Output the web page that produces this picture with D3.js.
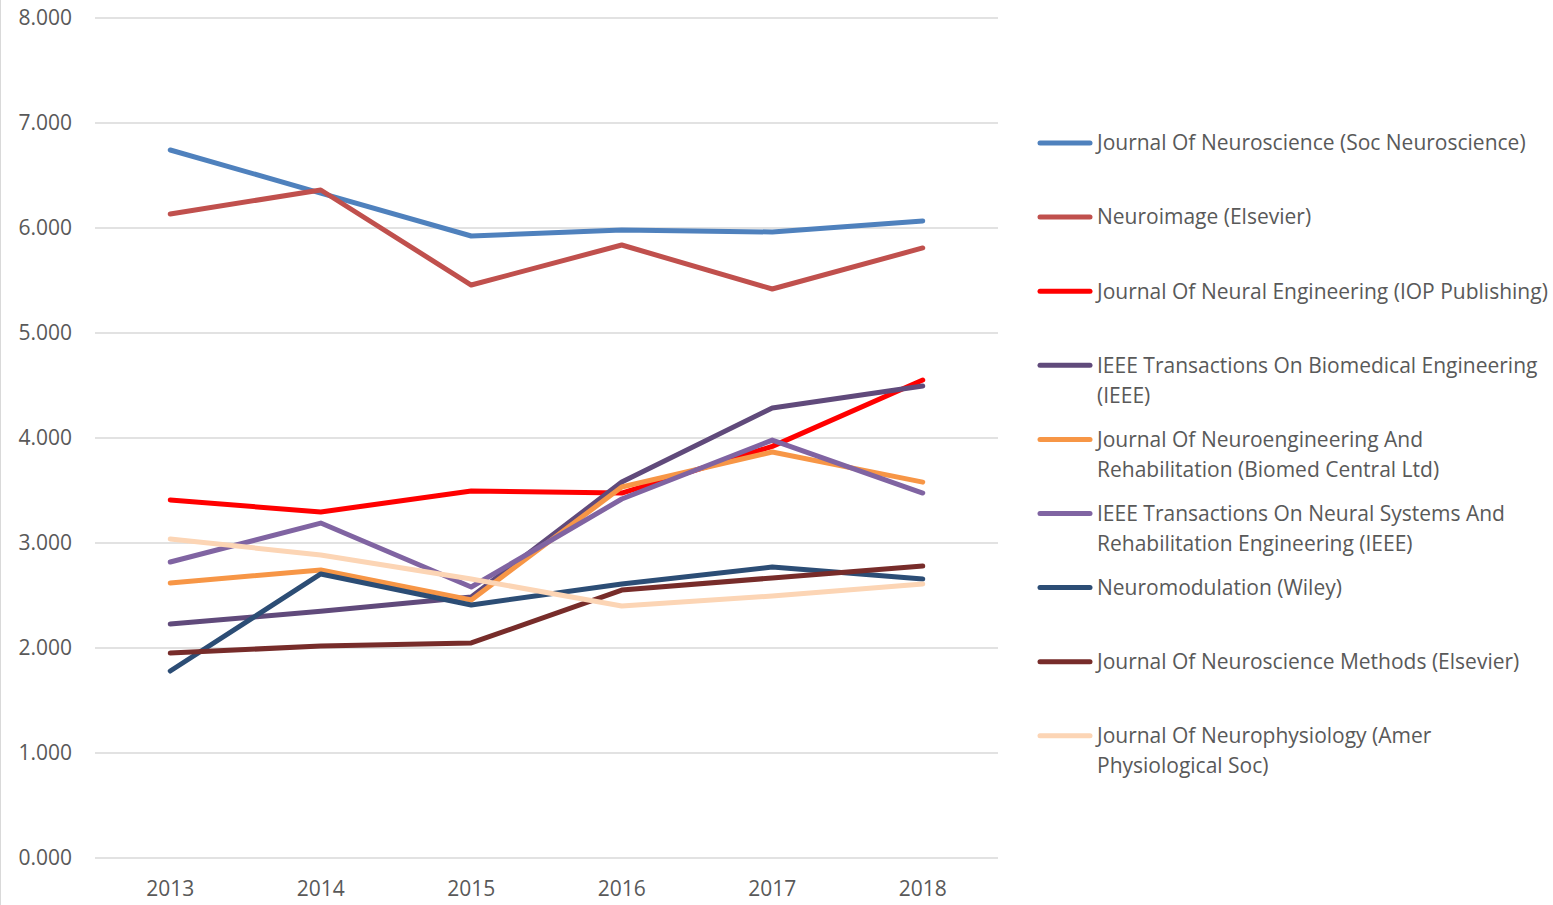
<!DOCTYPE html>
<html>
<head>
<meta charset="utf-8">
<script src="https://cdn.jsdelivr.net/npm/d3@7"></script>
<style>
  body { margin: 0; background: #fff; }
  svg text { font-family: "Open Sans", sans-serif; fill: #595959; }
</style>
</head>
<body>
<svg id="chart" width="1553" height="905"></svg>
<script>
// years on the x axis
const years = ["2013", "2014", "2015", "2016", "2017", "2018"];

// journal names, in legend order
const journals = [
  "Journal Of Neuroscience (Soc Neuroscience)",
  "Neuroimage (Elsevier)",
  "Journal Of Neural Engineering (IOP Publishing)",
  "IEEE Transactions On Biomedical Engineering (IEEE)",
  "Journal Of Neuroengineering And Rehabilitation (Biomed Central Ltd)",
  "IEEE Transactions On Neural Systems And Rehabilitation Engineering (IEEE)",
  "Neuromodulation (Wiley)",
  "Journal Of Neuroscience Methods (Elsevier)",
  "Journal Of Neurophysiology (Amer Physiological Soc)"
];

// impact factor values per journal, one per year
const jneurosci = [6.743, 6.333, 5.924, 5.981, 5.962, 6.067];
const neuroimage = [6.133, 6.362, 5.457, 5.838, 5.419, 5.810];
const jneuraleng = [3.410, 3.295, 3.495, 3.476, 3.920, 4.552];
const ieeeTbme = [2.229, 2.350, 2.486, 3.580, 4.286, 4.495];
const jner = [2.619, 2.743, 2.457, 3.533, 3.867, 3.580];
const ieeeTnsre = [2.819, 3.190, 2.581, 3.419, 3.980, 3.476];
const neuromod = [1.781, 2.705, 2.410, 2.610, 2.771, 2.657];
const jneuromethods = [1.952, 2.019, 2.048, 2.552, 2.667, 2.781];
const jneurophys = [3.038, 2.886, 2.657, 2.400, 2.495, 2.610];

const colors = ["#4f81bd", "#c0504d", "#ff0000", "#604a7b", "#f79646", "#8064a2", "#2c4d75", "#772c2a", "#fcd5b5"];

const yTicks = [0, 1, 2, 3, 4, 5, 6, 7, 8];

const seriesValues = [jneurosci, neuroimage, jneuraleng, ieeeTbme, jner, ieeeTnsre, neuromod, jneuromethods, jneurophys];
const series = journals.map((name, i) => ({ name, color: colors[i], values: seriesValues[i] }));

const svg = d3.select("#chart");

// thin chart-area border on the left edge
svg.append("line")
  .attr("x1", 0.5).attr("x2", 0.5).attr("y1", 0).attr("y2", 905)
  .attr("stroke", "#d9d9d9").attr("stroke-width", 1);

const plotLeft = 95, plotRight = 998, plotTop = 18, plotBottom = 858;

const x = d3.scaleBand().domain(years).range([plotLeft, plotRight]);
const y = d3.scaleLinear().domain([0, 8]).range([plotBottom, plotTop]);

// gridlines
svg.append("g").selectAll("line").data(yTicks).join("line")
  .attr("x1", plotLeft).attr("x2", plotRight)
  .attr("y1", d => y(d)).attr("y2", d => y(d))
  .attr("stroke", "#d9d9d9").attr("stroke-width", 1.5);

// y tick labels
svg.append("g").selectAll("text").data(yTicks).join("text")
  .attr("x", 72).attr("y", d => y(d))
  .attr("dy", "0.35em")
  .attr("text-anchor", "end")
  .style("font-size", "21px")
  .text(d => d3.format(".3f")(d));

// x tick labels
svg.append("g").selectAll("text").data(years).join("text")
  .attr("x", d => x(d) + x.bandwidth() / 2)
  .attr("y", 889)
  .attr("dy", "0.35em")
  .attr("text-anchor", "middle")
  .style("font-size", "21px")
  .text(d => d);

const line = d3.line()
  .x((d, i) => x(years[i]) + x.bandwidth() / 2)
  .y(d => y(d));

svg.append("g").selectAll("path").data(series).join("path")
  .attr("d", d => line(d.values))
  .attr("fill", "none")
  .attr("stroke", d => d.color)
  .attr("stroke-width", 5)
  .attr("stroke-linecap", "round")
  .attr("stroke-linejoin", "round");

// legend
const legend = svg.append("g");
const legendTop = 143, legendStep = 74.1, wrapWidth = 452;

series.forEach((s, i) => {
  const cy = legendTop + i * legendStep;
  const g = legend.append("g");
  g.append("line")
    .attr("x1", 1040).attr("x2", 1090)
    .attr("y1", cy).attr("y2", cy)
    .attr("stroke", s.color).attr("stroke-width", 5)
    .attr("stroke-linecap", "round");

  // word wrap the label
  const words = s.name.split(" ");
  const text = g.append("text").style("font-size", "21px");
  let lineNo = 0;
  let current = [];
  let tspan = text.append("tspan").attr("x", 1097).attr("y", cy).attr("dy", "0.35em");
  words.forEach(w => {
    current.push(w);
    tspan.text(current.join(" "));
    if (tspan.node().getComputedTextLength() > wrapWidth && current.length > 1) {
      current.pop();
      tspan.text(current.join(" "));
      current = [w];
      lineNo++;
      tspan = text.append("tspan").attr("x", 1097).attr("y", cy + lineNo * 30).attr("dy", "0.35em").text(w);
    }
  });
});
</script>
</body>
</html>
